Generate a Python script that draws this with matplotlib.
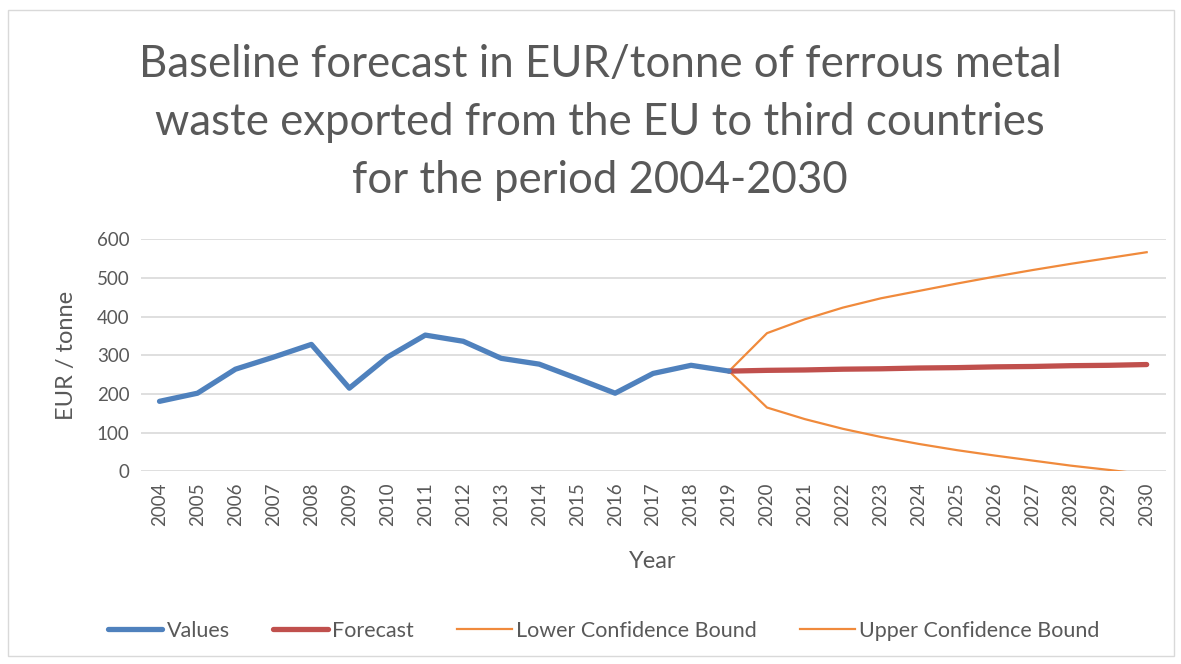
import numpy as np
import matplotlib
matplotlib.use("Agg")
import matplotlib.pyplot as plt
from matplotlib.patches import Rectangle

plt.rcParams["font.family"] = ["Lato", "DejaVu Sans"]

years = [str(y) for y in range(2004, 2031)]
values = [181, 202, 264, 295, 328, 215, 295, 352, 336, 292, 277, 240, 202, 253, 274, 259]  # 2004-2019
forecast = [259, 261, 262, 264, 265, 267, 268, 270, 271, 273, 274, 276]  # 2019-2030
lower = [259, 165, 135, 110, 89, 71, 55, 41, 28, 15, 4, -8]
upper = [259, 357, 393, 423, 447, 466, 485, 503, 520, 536, 551, 566]

text_col = "#595959"
x_all = np.arange(len(years))
x_val = x_all[:len(values)]
x_fc = x_all[len(values) - 1:]

fig = plt.figure(figsize=(11.81, 6.64), dpi=100)
ax = fig.add_axes([0.119, 0.29, 0.868, 0.35])

ax.plot(x_val, values, color="#4F81BD", lw=3.8, solid_capstyle="round", label="Values", zorder=4)
ax.plot(x_fc, forecast, color="#C0504D", lw=3.8, solid_capstyle="round", label="Forecast", zorder=3)
ax.plot(x_fc, lower, color="#F08A3C", lw=1.6, label="Lower Confidence Bound", zorder=2)
ax.plot(x_fc, upper, color="#F08A3C", lw=1.6, label="Upper Confidence Bound", zorder=2)

ax.set_xlim(-0.5, len(years) - 0.5)
ax.set_ylim(0, 600)
ax.set_yticks(range(0, 601, 100))
ax.set_xticks(x_all)
ax.set_xticklabels(years, rotation=90)
ax.tick_params(length=0, colors=text_col, labelsize=13.5, pad=8)
ax.grid(axis="y", color="#D9D9D9", lw=1.2)
ax.set_axisbelow(True)
for s in ax.spines.values():
    s.set_visible(False)

ax.set_ylabel("EUR / tonne", color=text_col, fontsize=17, labelpad=14)
ax.set_xlabel("Year", color=text_col, fontsize=17, labelpad=18)

fig.text(0.508, 0.816,
         "Baseline forecast in EUR/tonne of ferrous metal\n"
         "waste exported from the EU to third countries\n"
         "for the period 2004-2030",
         color=text_col, fontsize=31.5, ha="center", va="center", linespacing=1.52)

fig.legend(loc="center", bbox_to_anchor=(0.511, 0.05), ncol=4, frameon=False,
           fontsize=15.5, labelcolor=text_col, handlelength=2.55, columnspacing=2.0,
           handletextpad=0.2)

fig.patches.append(Rectangle((0.007, 0.012), 0.987, 0.973, transform=fig.transFigure,
                             fill=False, edgecolor="#D9D9D9", lw=1))

fig.savefig("out.png", dpi=100)
